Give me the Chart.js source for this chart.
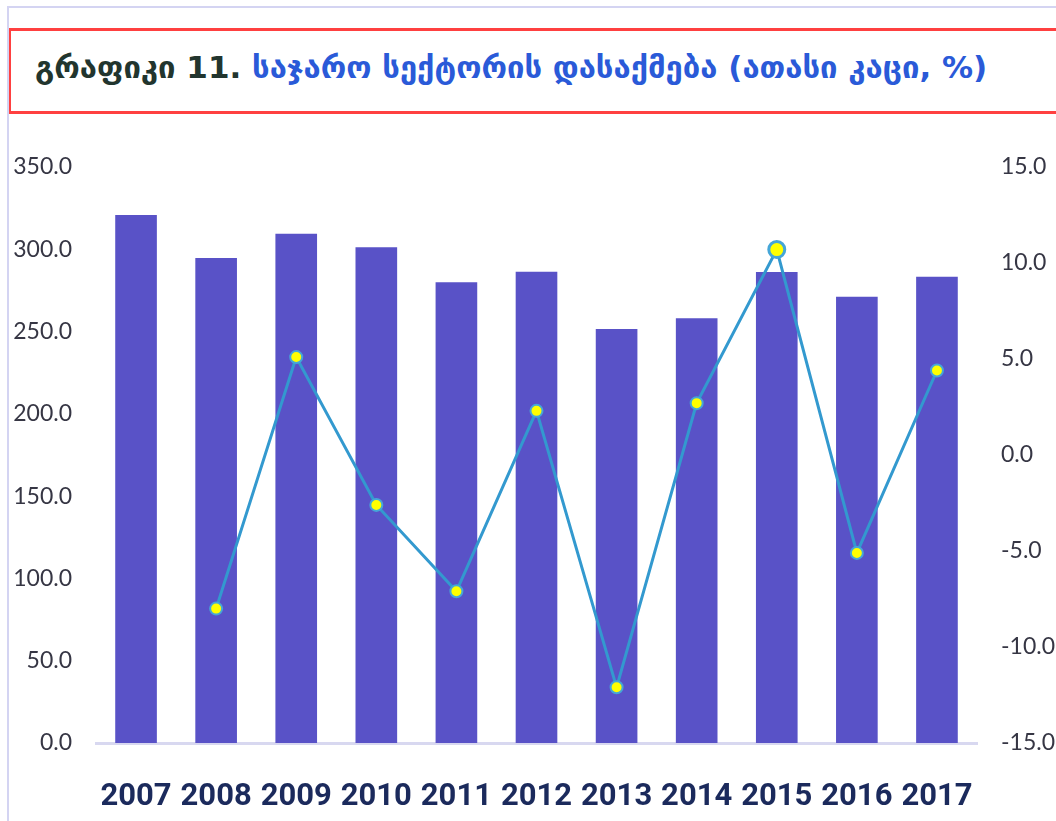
<!DOCTYPE html>
<html>
<head>
<meta charset="utf-8">
<script src="https://cdn.jsdelivr.net/npm/chart.js@4.4.1/dist/chart.umd.min.js"></script>
<style>
  html, body { margin: 0; padding: 0; background: #ffffff; }
  body { width: 1056px; height: 821px; position: relative; overflow: hidden; }
  #frameTop { position: absolute; left: 8px; top: 6px; width: 1048px; height: 2px; background: #d4d4f2; }
  #frameLeft { position: absolute; left: 7px; top: 6px; width: 2px; height: 815px; background: #d4d4f2; }
  #titleBox { position: absolute; left: 9px; top: 28px; width: 1060px; height: 80px;
    border-top: 3px solid #ff4040; border-bottom: 3px solid #ff4040; border-left: 2px solid #ff4040;
    box-sizing: content-box; }
  #title { position: absolute; left: 24px; top: 18px; white-space: nowrap;
    font-family: "DejaVu Sans", sans-serif; font-weight: bold; font-size: 31px; letter-spacing: 0px; }
  #title .a { color: #22352e; }
  #title .b { color: #2a5ad8; }
  #wrap { position: absolute; left: 0; top: 120px; width: 1056px; height: 701px; }
</style>
</head>
<body>
<div id="frameTop"></div>
<div id="frameLeft"></div>
<div id="titleBox"><div id="title"><span class="a">გრაფიკი 11. </span><span class="b">საჯარო სექტორის დასაქმება (ათასი კაცი, %)</span></div></div>
<div id="wrap"><canvas id="c" width="1056" height="701"></canvas></div>
<script>
const years = ["2007","2008","2009","2010","2011","2012","2013","2014","2015","2016","2017"];
const employment = [320.8, 294.7, 309.5, 301.2, 279.9, 286.4, 251.6, 258.1, 286.2, 271.2, 283.3];
const growthPct = [null, -8.0, 5.1, -2.6, -7.1, 2.3, -12.1, 2.7, 10.7, -5.1, 4.4];

const tickFont = { family: "Lato, 'Open Sans', sans-serif", size: 23 };
const tickColor = "#363644";

new Chart(document.getElementById("c"), {
  data: {
    labels: years,
    datasets: [
      {
        type: "line",
        data: growthPct,
        yAxisID: "yR",
        order: 1,
        borderColor: "#3399cf",
        borderWidth: 3,
        backgroundColor: "#ffff00",
        pointBackgroundColor: "#ffff00",
        pointBorderColor: "#45a6d8",
        pointBorderWidth: (ctx) => ctx.dataIndex === 8 ? 3 : 2,
        pointRadius: (ctx) => ctx.dataIndex === 8 ? 8 : 6,
        tension: 0,
        spanGaps: false
      },
      {
        type: "bar",
        data: employment,
        yAxisID: "yL",
        order: 2,
        backgroundColor: "#5952c7",
        borderWidth: 0,
        barPercentage: 0.52,
        categoryPercentage: 1.0
      }
    ]
  },
  options: {
    responsive: false,
    animation: false,
    events: [],
    layout: { padding: { top: 47, left: 0, right: 0, bottom: 0 } },
    plugins: { legend: { display: false }, tooltip: { enabled: false }, title: { display: false } },
    scales: {
      x: {
        grid: { display: false, drawTicks: false },
        border: { display: true, color: "#d8d8f0", width: 3 },
        ticks: {
          color: "#1b2a5c",
          font: { family: "Roboto, 'Liberation Sans', sans-serif", size: 31, weight: "bold" },
          padding: 36,
          maxRotation: 0,
          autoSkip: false
        },
        afterFit: (s) => { s.height = 78; }
      },
      yL: {
        position: "left",
        min: 0, max: 350,
        grid: { display: false, drawTicks: false },
        border: { display: false },
        ticks: {
          stepSize: 50,
          color: tickColor,
          font: tickFont,
          padding: 24,
          callback: (v) => Number(v).toFixed(1)
        },
        afterFit: (s) => { s.width = 96; }
      },
      yR: {
        position: "right",
        min: -15, max: 15,
        grid: { display: false, drawTicks: false },
        border: { display: false },
        ticks: {
          stepSize: 5,
          color: tickColor,
          font: tickFont,
          padding: 24,
          callback: (v) => Number(v).toFixed(1)
        },
        afterFit: (s) => { s.width = 79; }
      }
    }
  }
});
</script>
</body>
</html>
